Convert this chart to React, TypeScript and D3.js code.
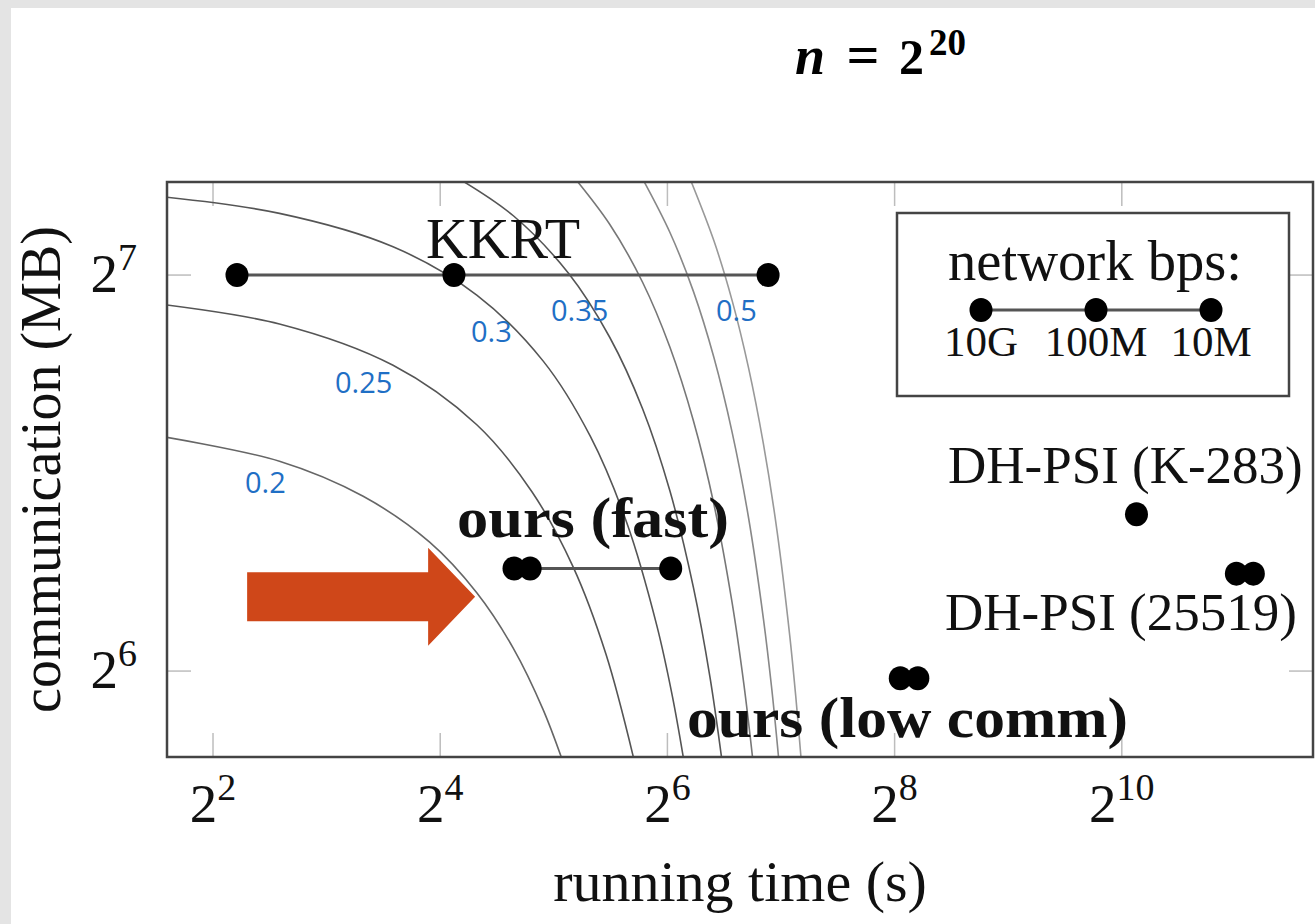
import * as d3 from 'd3';
import React, { useRef, useEffect } from 'react';

const WIDTH = 1315;
const HEIGHT = 924;

// network settings, one dot each (left to right)
const networks = ["10G", "100M", "10M"];

const protocols = ["KKRT", "ours (fast)", "ours (low comm)", "DH-PSI (K-283)", "DH-PSI (25519)"];
// running time (s) for each network setting (overlapping ones are left out)
const runTimes = [
    [4.63, 17.4, 118.3],
    [25.1, 27.7, 65.3],
    [265, 295],
    [1120],
    [2060, 2285],
];
// communication (MB)
const commMB = [128, 76.6, 63.2, 84.2, 75.9];

// tick exponents (base 2)
const xTickExp = [2, 4, 6, 8, 10];
const yTickExp = [6, 7];

// iso-cost curves, [time (s), comm (MB)]
const isoLabels = ["0.2", "0.25", "0.3", "0.35", "0.4", "0.45", "0.5"];
const iso020 = [[2.8, 96.7], [6, 92.4], [10, 86.9], [15, 80.2], [20, 73.4], [25, 66.6], [30, 59.8], [34.3, 54.0]];
const iso025 = [[2.8, 121.8], [6, 117.5], [12, 109.3], [20, 98.5], [28, 87.6], [36, 76.8], [44, 65.9], [52.6, 54.3]];
const iso030 = [[2.8, 147.0], [6, 142.6], [12, 134.5], [20, 123.6], [30, 110.1], [40, 96.5], [50, 82.9], [60, 69.3], [66, 61.2], [71, 54.4]];
const iso035 = [[17.6, 152], [25, 142.0], [35, 128.4], [45, 114.8], [55, 101.3], [65, 87.7], [75, 74.1], [83, 63.3], [89.6, 54.3]];
const iso040 = [[36, 152.2], [45, 139.9], [55, 126.4], [65, 112.8], [75, 99.2], [85, 85.7], [95, 72.1], [102, 62.6], [108, 54.5]];
const iso045 = [[55, 151.5], [65, 137.9], [75, 124.4], [85, 110.8], [95, 97.2], [105, 83.7], [115, 70.1], [121, 62.0], [126.5, 54.5]];
const iso050 = [[73, 152.2], [85, 135.9], [95, 122.4], [105, 108.8], [115, 95.2], [125, 81.7], [135, 68.1], [140, 61.3], [145, 54.5]];
const isoCurves = [iso020, iso025, iso030, iso035, iso040, iso045, iso050];

const serif = "'Liberation Serif', 'Times New Roman', serif";

function CostChart() {
    const ref = useRef<SVGSVGElement>(null);

    useEffect(() => {
        draw();
    }, []);

    const draw = () => {
        const svg = d3.select(ref.current);
        svg.selectAll("*").remove();

        const left = 167, right = 1313, top = 182, bottom = 757;

        const x = d3.scaleLog().base(2)
            .domain([Math.pow(2, 1.595), Math.pow(2, 11.683)])
            .range([left, right]);
        const y = d3.scaleLog().base(2)
            .domain([Math.pow(2, 5.783), Math.pow(2, 7.235)])
            .range([bottom, top]);

        // page background (grey margin + white sheet)
        svg.append("rect").attr("width", WIDTH).attr("height", HEIGHT).attr("fill", "#e4e4e4");
        svg.append("rect").attr("x", 11).attr("y", 8)
            .attr("width", WIDTH - 11).attr("height", HEIGHT - 8).attr("fill", "#fff");

        svg.append("clipPath").attr("id", "plot-clip")
            .append("rect").attr("x", left).attr("y", top)
            .attr("width", right - left).attr("height", bottom - top);

        // inner ticks
        const tickLen = 24;
        const ticks = svg.append("g").attr("stroke", "#bdbdbd").attr("stroke-width", 1.5);
        xTickExp.forEach(e => {
            const px = x(Math.pow(2, e));
            ticks.append("line").attr("x1", px).attr("x2", px).attr("y1", bottom).attr("y2", bottom - tickLen);
            ticks.append("line").attr("x1", px).attr("x2", px).attr("y1", top).attr("y2", top + tickLen);
        });
        yTickExp.forEach(e => {
            const py = y(Math.pow(2, e));
            ticks.append("line").attr("x1", left).attr("x2", left + tickLen).attr("y1", py).attr("y2", py);
            ticks.append("line").attr("x1", right).attr("x2", right - tickLen).attr("y1", py).attr("y2", py);
        });

        // iso-cost curves
        const line = d3.line<number[]>()
            .x(d => x(d[0]))
            .y(d => y(d[1]))
            .curve(d3.curveCatmullRom.alpha(0.5));
        const isoColors = ["#666", "#555", "#555", "#555", "#777", "#888", "#999"];
        const curves = svg.append("g").attr("clip-path", "url(#plot-clip)");
        isoCurves.forEach((pts, i) => {
            curves.append("path")
                .attr("d", line(pts))
                .attr("fill", "none")
                .attr("stroke", isoColors[i])
                .attr("stroke-width", 1.6);
        });

        // curve labels
        const isoLabelPos = [[245, 493], [335, 393], [471, 342], [551, 321], null, null, [716, 321]];
        isoLabels.forEach((lab, i) => {
            const p = isoLabelPos[i];
            if (!p) return;
            svg.append("text")
                .attr("x", p[0]).attr("y", p[1])
                .attr("font-family", "'Open Sans', 'Noto Sans', sans-serif")
                .attr("font-size", 29)
                .attr("fill", "#1f6fc5")
                .text(lab);
        });

        // arrow pointing at the cheapest curve
        const tipX = x(19.8), tipY = y(72.9);
        const arrow = d3.path();
        arrow.moveTo(tipX - 228, tipY - 24.5);
        arrow.lineTo(tipX - 47, tipY - 24.5);
        arrow.lineTo(tipX - 47, tipY - 49);
        arrow.lineTo(tipX, tipY);
        arrow.lineTo(tipX - 47, tipY + 49);
        arrow.lineTo(tipX - 47, tipY + 24.5);
        arrow.lineTo(tipX - 228, tipY + 24.5);
        arrow.closePath();
        svg.append("path").attr("d", arrow.toString()).attr("fill", "#cf4719");

        // protocol series
        const series = svg.append("g");
        protocols.forEach((name, i) => {
            const ts = runTimes[i];
            const cy = y(commMB[i]);
            if (ts.length > 1) {
                series.append("line")
                    .attr("x1", x(ts[0])).attr("x2", x(ts[ts.length - 1]))
                    .attr("y1", cy).attr("y2", cy)
                    .attr("stroke", "#555").attr("stroke-width", 3);
            }
            ts.forEach(t => {
                series.append("ellipse")
                    .attr("cx", x(t)).attr("cy", cy)
                    .attr("rx", 11.5).attr("ry", 12)
                    .attr("fill", "#000");
            });
        });

        // series labels
        const labelSpec = [
            { text: "KKRT", x: 503, y: 258, anchor: "middle", bold: false, size: 56, len: 154 },
            { text: "ours (fast)", x: 457, y: 537, anchor: "start", bold: true, size: 56, len: 272 },
            { text: "ours (low comm)", x: 687, y: 737, anchor: "start", bold: true, size: 56, len: 441 },
            { text: "DH-PSI (K-283)", x: 948, y: 483, anchor: "start", bold: false, size: 53, len: 0 },
            { text: "DH-PSI (25519)", x: 945, y: 630, anchor: "start", bold: false, size: 53, len: 0 },
        ];
        labelSpec.forEach(l => {
            const t = svg.append("text")
                .attr("x", l.x).attr("y", l.y)
                .attr("text-anchor", l.anchor)
                .attr("font-family", serif)
                .attr("font-size", l.size)
                .attr("font-weight", l.bold ? "bold" : "normal")
                .attr("fill", "#111")
                .text(l.text);
            if (l.len) t.attr("textLength", l.len).attr("lengthAdjust", "spacingAndGlyphs");
        });

        // frame
        svg.append("rect")
            .attr("x", left).attr("y", top)
            .attr("width", right - left).attr("height", bottom - top)
            .attr("fill", "none").attr("stroke", "#444").attr("stroke-width", 2.5);

        // legend
        const lg = svg.append("g");
        lg.append("rect").attr("x", 897).attr("y", 213).attr("width", 392).attr("height", 183)
            .attr("fill", "#fff").attr("stroke", "#444").attr("stroke-width", 2.5);
        lg.append("text").attr("x", 948).attr("y", 280)
            .attr("font-family", serif).attr("font-size", 56).attr("fill", "#111")
            .attr("textLength", 294).attr("lengthAdjust", "spacingAndGlyphs")
            .text("network bps:");
        const legendX = d3.scalePoint<string>().domain(networks).range([981, 1211]);
        lg.append("line").attr("x1", legendX(networks[0])).attr("x2", legendX(networks[networks.length - 1]))
            .attr("y1", 310).attr("y2", 310).attr("stroke", "#555").attr("stroke-width", 3);
        networks.forEach(n => {
            lg.append("ellipse").attr("cx", legendX(n)).attr("cy", 310).attr("rx", 11.5).attr("ry", 12).attr("fill", "#000");
            lg.append("text").attr("x", legendX(n)).attr("y", 356)
                .attr("text-anchor", "middle")
                .attr("font-family", serif).attr("font-size", 43).attr("fill", "#111")
                .text(n);
        });

        // tick labels
        xTickExp.forEach(e => {
            const t = svg.append("text")
                .attr("x", x(Math.pow(2, e))).attr("y", 822)
                .attr("text-anchor", "middle")
                .attr("font-family", serif).attr("fill", "#111");
            t.append("tspan").attr("font-size", 55).text("2");
            t.append("tspan").attr("font-size", 38).attr("dy", -22).text(String(e));
        });
        yTickExp.forEach(e => {
            const t = svg.append("text")
                .attr("x", 137).attr("y", y(Math.pow(2, e)) + 17)
                .attr("text-anchor", "end")
                .attr("font-family", serif).attr("fill", "#111");
            t.append("tspan").attr("font-size", 55).text("2");
            t.append("tspan").attr("font-size", 38).attr("dy", -22).text(String(e));
        });

        // axis titles
        svg.append("text")
            .attr("x", (left + right) / 2).attr("y", 901)
            .attr("text-anchor", "middle")
            .attr("font-family", serif).attr("font-size", 58).attr("fill", "#111")
            .text("running time (s)");
        svg.append("text")
            .attr("transform", "translate(60," + ((top + bottom) / 2) + ") rotate(-90)")
            .attr("text-anchor", "middle")
            .attr("font-family", serif).attr("font-size", 56).attr("fill", "#111")
            .text("communication (MB)");

        // title n = 2^20
        const title = svg.append("g").attr("font-family", serif).attr("font-weight", "bold").attr("fill", "#000");
        title.append("text").attr("x", 795).attr("y", 74).attr("font-size", 54).attr("font-style", "italic").text("n");
        title.append("text").attr("x", 863).attr("y", 74).attr("text-anchor", "middle").attr("font-size", 58).text("=");
        title.append("text").attr("x", 899).attr("y", 74).attr("font-size", 50).text("2");
        title.append("text").attr("x", 929).attr("y", 55).attr("font-size", 37).text("20");
    };

    return (
        <svg ref={ref} width={WIDTH} height={HEIGHT}
            style={{ position: "absolute", left: 0, top: 0, display: "block" }}>
        </svg>
    );
}

export default function App() {
    return <CostChart />;
}
